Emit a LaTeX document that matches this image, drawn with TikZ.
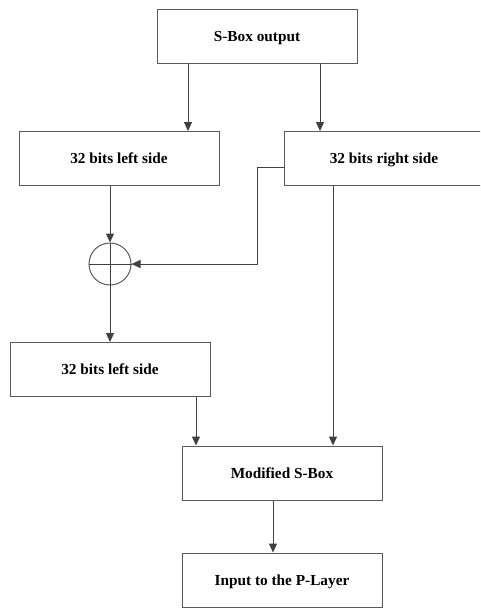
\documentclass[tikz,border=0pt]{standalone}
\usepackage{fontspec}
\setmainfont{Liberation Serif}
\usetikzlibrary{arrows.meta}
\begin{document}
\begin{tikzpicture}[x=1pt,y=-1pt,
  box/.style={draw=black!65,line width=1pt,minimum width=200pt,minimum height=54pt,inner sep=0pt,text height=10pt,text depth=0pt,font=\fontsize{15.3}{17}\selectfont\bfseries},
  conn/.style={draw=black!75,line width=1pt,-{Triangle[width=8pt,length=9pt]}},
  plain/.style={draw=black!75,line width=1pt}]
\useasboundingbox (0,0) rectangle (480,608);
\begin{scope}
\clip (0,0) rectangle (480,608);
\node[box] (sbox) at (257,36) {S-Box output};
\node[box] (left1) at (119,158.5) {32 bits left side};
\node[box] (right) at (384,158.5) {32 bits right side};
\node[draw=black!65,line width=1pt,circle,minimum size=42pt,inner sep=0pt] (xor) at (110,264) {};
\draw[plain] (xor.north) -- (xor.south) (xor.west) -- (xor.east);
\node[box] (left2) at (110,369.5) {32 bits left side};
\node[box] (mod) at (282,473) {Modified S-Box};
\node[box] (out) at (282,580) {Input to the P-Layer};
\draw[conn] (sbox.south -| 188,0) -- (left1.north -| 188,0);
\draw[conn] (sbox.south -| 320,0) -- (right.north -| 320,0);
\draw[conn] (left1.south -| xor) -- (xor.north);
\coordinate (fb) at (257,167);
\draw[conn] (right.west |- fb) -- (fb) |- (xor.east);
\draw[conn] (xor.south) -- (left2.north);
\draw[conn] (left2.south -| 196,0) -- (mod.north -| 196,0);
\draw[conn] (right.south -| 333,0) -- (mod.north -| 333,0);
\draw[conn] (mod.south -| 273,0) -- (out.north -| 273,0);
\end{scope}
\end{tikzpicture}
\end{document}
